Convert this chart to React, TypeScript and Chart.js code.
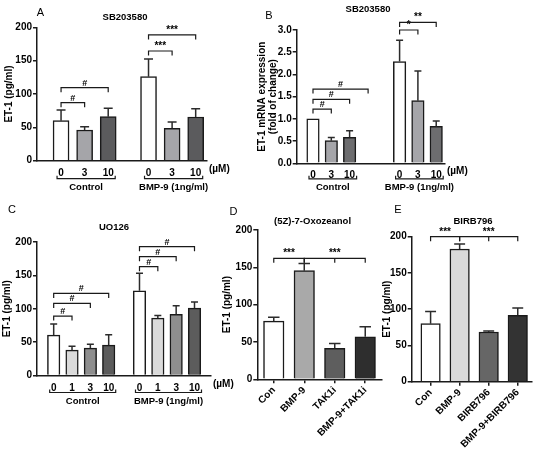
import React, { useEffect, useRef } from 'react';
import { Chart, registerables } from 'chart.js';

Chart.register(...registerables);

const FONT = '"Liberation Sans", Arial, Helvetica, sans-serif';
const INK = '#1a1a1a';

// ---------- Panel A : SB203580, ET-1 (pg/ml) ----------
const A_DOSES = ['0', '3', '10'];
const A_GROUPS = ['Control', 'BMP-9 (1ng/ml)'];
const A_CONTROL = [60, 46, 66];
const A_CONTROL_ERR = [16, 5, 12.5];
const A_BMP9 = [126, 48.5, 65.5];
const A_BMP9_ERR = [26.5, 9.5, 12.5];
const A_Y_TICKS = [0, 50, 100, 150, 200];
const A_SIG = [
  { from: 0, to: 1, at: 87, label: '#' },
  { from: 0, to: 2, at: 109.5, label: '#' },
  { from: 3, to: 4, at: 164.5, label: '***' },
  { from: 3, to: 5, at: 188.5, label: '***' },
];

// ---------- Panel B : SB203580, ET-1 mRNA (fold of change) ----------
const B_DOSES = ['0', '3', '10'];
const B_GROUPS = ['Control', 'BMP-9 (1ng/ml)'];
const B_CONTROL = [1.0, 0.51, 0.585];
const B_CONTROL_ERR = [0, 0.07, 0.145];
const B_BMP9 = [2.29, 1.41, 0.83];
const B_BMP9_ERR = [0.48, 0.67, 0.12];
const B_Y_TICKS = [0, 0.5, 1, 1.5, 2, 2.5, 3];
const B_SIG = [
  { from: 0, to: 1, at: 1.22, label: '#' },
  { from: 0, to: 2, at: 1.44, label: '#' },
  { from: 0, to: 2.37, at: 1.67, label: '#' },
  { from: 3, to: 4, at: 3.0, label: '*' },
  { from: 3, to: 5, at: 3.17, label: '**' },
];

// ---------- Panel C : UO126 ----------
const C_DOSES = ['0', '1', '3', '10'];
const C_GROUPS = ['Control', 'BMP-9 (1ng/ml)'];
const C_CONTROL = [60.5, 38, 41, 45.5];
const C_CONTROL_ERR = [16.5, 6, 6, 15.5];
const C_BMP9 = [127, 86, 91.5, 101];
const C_BMP9_ERR = [26, 4, 13, 9];
const C_Y_TICKS = [0, 50, 100, 150, 200];
const C_SIG = [
  { from: 0, to: 1, at: 89, label: '#' },
  { from: 0, to: 2, at: 108, label: '#' },
  { from: 0, to: 3, at: 123, label: '#' },
  { from: 4, to: 5, at: 163, label: '#' },
  { from: 4, to: 6, at: 178, label: '#' },
  { from: 4, to: 7, at: 193, label: '#' },
];

// ---------- Panel D : (5Z)-7-Oxozeanol ----------
const D_LABELS = ['Con', 'BMP-9', 'TAK1i', 'BMP-9+TAK1i'];
const D_VALUES = [78, 145.5, 41.5, 57];
const D_ERR = [5, 9.5, 6.5, 13.5];
const D_Y_TICKS = [0, 50, 100, 150, 200];
const D_SIG = [
  { from: 0, to: 1, at: 162, label: '***' },
  { from: 1, to: 3, at: 162, label: '***', mid: [2] },
];

// ---------- Panel E : BIRB796 ----------
const E_LABELS = ['Con', 'BMP-9', 'BIRB796', 'BMP-9+BIRB796'];
const E_VALUES = [80, 183, 68.5, 91.5];
const E_ERR = [17, 7, 1.5, 10];
const E_Y_TICKS = [0, 50, 100, 150, 200];
const E_SIG = [
  { from: 0, to: 1, at: 200, label: '***' },
  { from: 1, to: 3, at: 200, label: '***', mid: [2] },
];

type Sig = { from: number; to: number; at: number; label: string; mid?: number[] };
type Txt = { text: string; x: number; y: number; size: number; bold: boolean };
type Panel = {
  box: [number, number, number, number];
  area: { left: number; right: number; top: number; bottom: number };
  xRange: [number, number];
  xs: number[];
  labels: string[];
  values: number[];
  errors: number[];
  colors: string[];
  barThickness: number;
  yMax: number;
  yTicks: number[];
  yFmt: (v: number) => string;
  yTitle: string | string[];
  yTitlePad: number;
  sig: Sig[];
  groups?: { name: string; from: number; to: number }[];
  unit?: string;
  rotate: boolean;
  labelPad: number;
  groupLineDy: number;
  groupNameDy: number;
  texts: Txt[];
};

const groupedXs = (n: number, offset: number) => {
  const out: number[] = [];
  for (let i = 0; i < n; i++) out.push(i);
  for (let i = 0; i < n; i++) out.push(offset + i);
  return out;
};

const PANELS: Panel[] = [
  {
    box: [0, 0, 265, 205],
    area: { left: 37, right: 207, top: 27.3, bottom: 160.7 },
    xRange: [-1.02, 6.19],
    xs: groupedXs(3, 3.71),
    labels: [...A_DOSES, ...A_DOSES],
    values: [...A_CONTROL, ...A_BMP9],
    errors: [...A_CONTROL_ERR, ...A_BMP9_ERR],
    colors: ['#ffffff', '#a5a5a9', '#5b5b5d', '#ffffff', '#a5a5a9', '#5b5b5d'],
    barThickness: 16,
    yMax: 200,
    yTicks: A_Y_TICKS,
    yFmt: (v) => String(v),
    yTitle: 'ET-1 (pg/ml)',
    yTitlePad: 4,
    sig: A_SIG,
    groups: [
      { name: A_GROUPS[0], from: 0, to: 2 },
      { name: A_GROUPS[1], from: 3, to: 5 },
    ],
    unit: '(\u00b5M)',
    rotate: false,
    labelPad: 3,
    groupLineDy: 18,
    groupNameDy: 26.5,
    texts: [
      { text: 'A', x: 40.5, y: 13, size: 11, bold: false },
      { text: 'SB203580', x: 125, y: 17, size: 9.5, bold: true },
    ],
  },
  {
    box: [254, 0, 283, 205],
    area: { left: 42.7, right: 191, top: 30, bottom: 163.3 },
    xRange: [-0.89, 7.21],
    xs: groupedXs(3, 4.73),
    labels: [...B_DOSES, ...B_DOSES],
    values: [...B_CONTROL, ...B_BMP9],
    errors: [...B_CONTROL_ERR, ...B_BMP9_ERR],
    colors: ['#ffffff', '#a5a5a9', '#6d6d6f', '#ffffff', '#a5a5a9', '#6d6d6f'],
    barThickness: 12.5,
    yMax: 3,
    yTicks: B_Y_TICKS,
    yFmt: (v) => v.toFixed(1),
    yTitle: ['ET-1 mRNA expression', '(fold of change)'],
    yTitlePad: 3,
    sig: B_SIG,
    groups: [
      { name: B_GROUPS[0], from: 0, to: 2 },
      { name: B_GROUPS[1], from: 3, to: 5 },
    ],
    unit: '(\u00b5M)',
    rotate: false,
    labelPad: 1.5,
    groupLineDy: 15.5,
    groupNameDy: 24,
    texts: [
      { text: 'B', x: 15, y: 16, size: 11, bold: false },
      { text: 'SB203580', x: 114, y: 9, size: 9.5, bold: true },
    ],
  },
  {
    box: [0, 200, 245, 261],
    area: { left: 37, right: 211, top: 42, bottom: 175.5 },
    xRange: [-0.91, 8.58],
    xs: groupedXs(4, 4.68),
    labels: [...C_DOSES, ...C_DOSES],
    values: [...C_CONTROL, ...C_BMP9],
    errors: [...C_CONTROL_ERR, ...C_BMP9_ERR],
    colors: ['#ffffff', '#dadada', '#8e8e8e', '#5c5c5c', '#ffffff', '#dadada', '#8e8e8e', '#5c5c5c'],
    barThickness: 12.5,
    yMax: 200,
    yTicks: C_Y_TICKS,
    yFmt: (v) => String(v),
    yTitle: 'ET-1 (pg/ml)',
    yTitlePad: 1.5,
    sig: C_SIG,
    groups: [
      { name: C_GROUPS[0], from: 0, to: 3 },
      { name: C_GROUPS[1], from: 4, to: 7 },
    ],
    unit: '(\u00b5M)',
    rotate: false,
    labelPad: 3,
    groupLineDy: 17,
    groupNameDy: 25.5,
    texts: [
      { text: 'C', x: 12, y: 10, size: 11, bold: false },
      { text: 'UO126', x: 114, y: 27.5, size: 9.5, bold: true },
    ],
  },
  {
    box: [222, 200, 163, 261],
    area: { left: 35.3, right: 159.7, top: 30, bottom: 179.3 },
    xRange: [-0.54, 3.54],
    xs: [0, 1, 2, 3],
    labels: D_LABELS,
    values: D_VALUES,
    errors: D_ERR,
    colors: ['#ffffff', '#a9a9a9', '#5e5e5e', '#2e2e2e'],
    barThickness: 20.5,
    yMax: 200,
    yTicks: D_Y_TICKS,
    yFmt: (v) => String(v),
    yTitle: 'ET-1 (pg/ml)',
    yTitlePad: 0,
    sig: D_SIG,
    rotate: true,
    labelPad: 1,
    groupLineDy: 0,
    groupNameDy: 0,
    texts: [
      { text: 'D', x: 11.5, y: 11.5, size: 11, bold: false },
      { text: '(5Z)-7-Oxozeanol', x: 90.5, y: 21.5, size: 9.5, bold: true },
    ],
  },
  {
    box: [380, 200, 157, 261],
    area: { left: 31.7, right: 151.7, top: 36.7, bottom: 181.7 },
    xRange: [-0.65, 3.48],
    xs: [0, 1, 2, 3],
    labels: E_LABELS,
    values: E_VALUES,
    errors: E_ERR,
    colors: ['#ffffff', '#dadada', '#666666', '#333333'],
    barThickness: 19.5,
    yMax: 200,
    yTicks: E_Y_TICKS,
    yFmt: (v) => String(v),
    yTitle: 'ET-1 (pg/ml)',
    yTitlePad: 2,
    sig: E_SIG,
    rotate: true,
    labelPad: 1,
    groupLineDy: 0,
    groupNameDy: 0,
    texts: [
      { text: 'E', x: 18, y: 10, size: 11, bold: false },
      { text: 'BIRB796', x: 93, y: 21, size: 9.5, bold: true },
    ],
  },
];

function decorPlugin(p: Panel) {
  const posOf = (k: number) => {
    const i = Math.floor(k);
    const f = k - i;
    if (f === 0) return p.xs[i];
    return p.xs[i] + f * (p.xs[i + 1] - p.xs[i]);
  };
  return {
    id: 'decor',
    afterDatasetsDraw(chart: any) {
      const { ctx } = chart;
      const xs = chart.scales.x;
      const ys = chart.scales.y;
      const meta = chart.getDatasetMeta(0);
      ctx.save();
      ctx.strokeStyle = '#2b2b2b';
      ctx.lineWidth = 1.5;
      p.values.forEach((v, i) => {
        const e = p.errors[i];
        if (!e) return;
        const el = meta.data[i];
        const x = el.x;
        const y0 = ys.getPixelForValue(v);
        const y1 = ys.getPixelForValue(v + e);
        const half = Math.max(2.5, el.width * 0.28);
        ctx.beginPath();
        ctx.moveTo(x, y0);
        ctx.lineTo(x, y1);
        ctx.moveTo(x - half, y1);
        ctx.lineTo(x + half, y1);
        ctx.stroke();
      });
      ctx.strokeStyle = INK;
      ctx.lineWidth = 1.2;
      ctx.fillStyle = '#000';
      ctx.textAlign = 'center';
      ctx.textBaseline = 'alphabetic';
      p.sig.forEach((s) => {
        const x1 = xs.getPixelForValue(posOf(s.from));
        const x2 = xs.getPixelForValue(posOf(s.to));
        const y = ys.getPixelForValue(s.at);
        ctx.beginPath();
        ctx.moveTo(x1, y + 4.5);
        ctx.lineTo(x1, y);
        ctx.lineTo(x2, y);
        ctx.lineTo(x2, y + 4.5);
        (s.mid || []).forEach((m) => {
          const xm = xs.getPixelForValue(posOf(m));
          ctx.moveTo(xm, y);
          ctx.lineTo(xm, y + 4.5);
        });
        ctx.stroke();
        const star = s.label.startsWith('*');
        ctx.font = `bold ${star ? 10 : 9}px ${FONT}`;
        ctx.fillText(s.label, (x1 + x2) / 2, y - 2);
      });
      ctx.restore();
    },
    afterDraw(chart: any) {
      const { ctx, chartArea } = chart;
      const xs = chart.scales.x;
      const base = chartArea.bottom;
      ctx.save();
      ctx.strokeStyle = INK;
      ctx.lineWidth = 1.2;
      ctx.fillStyle = '#000';
      ctx.textAlign = 'center';
      ctx.textBaseline = 'middle';
      (p.groups || []).forEach((g) => {
        const x1 = xs.getPixelForValue(p.xs[g.from]) - 4;
        const x2 = xs.getPixelForValue(p.xs[g.to]) + 7;
        const y = base + p.groupLineDy;
        ctx.beginPath();
        ctx.moveTo(x1, y - 3);
        ctx.lineTo(x1, y);
        ctx.lineTo(x2, y);
        ctx.lineTo(x2, y - 3);
        ctx.stroke();
        ctx.font = `bold 9.5px ${FONT}`;
        ctx.fillText(g.name, (x1 + x2) / 2, base + p.groupNameDy);
      });
      if (p.unit) {
        ctx.textAlign = 'left';
        ctx.font = `bold 10px ${FONT}`;
        ctx.fillText(p.unit, chartArea.right + 2, base + p.labelPad + 6);
      }
      p.texts.forEach((t) => {
        ctx.textAlign = 'center';
        ctx.font = `${t.bold ? 'bold ' : ''}${t.size}px ${FONT}`;
        ctx.fillText(t.text, t.x, t.y);
      });
      ctx.restore();
    },
  };
}

function buildConfig(p: Panel): any {
  const tickFont = { family: FONT, size: 10, weight: 'bold' };
  const rot = p.rotate ? 45 : 0;
  return {
    type: 'bar',
    data: {
      datasets: [
        {
          data: p.values.map((v, i) => ({ x: p.xs[i], y: v })),
          backgroundColor: p.colors,
          borderColor: INK,
          borderWidth: 1.5,
          borderSkipped: 'start',
          barThickness: p.barThickness,
        },
      ],
    },
    options: {
      animation: false,
      responsive: false,
      devicePixelRatio: 1,
      events: [],
      layout: { padding: { left: 0, top: p.area.top, right: p.box[2] - p.area.right, bottom: 0 } },
      plugins: { legend: { display: false }, tooltip: { enabled: false }, title: { display: false } },
      scales: {
        x: {
          type: 'linear',
          min: p.xRange[0],
          max: p.xRange[1],
          offset: false,
          afterBuildTicks: (s: any) => {
            s.ticks = p.xs.map((v) => ({ value: v }));
          },
          afterFit: (s: any) => {
            s.height = p.box[3] - p.area.bottom;
          },
          grid: { display: p.rotate, drawOnChartArea: false, drawTicks: true, tickLength: 4, color: INK, lineWidth: 1.5, offset: false },
          border: { display: true, color: INK, width: 1.5 },
          ticks: {
            autoSkip: false,
            minRotation: rot,
            maxRotation: rot,
            padding: p.labelPad,
            color: '#000',
            font: tickFont,
            callback: (_v: any, i: number) => p.labels[i],
          },
        },
        y: {
          type: 'linear',
          min: 0,
          max: p.yMax,
          afterBuildTicks: (s: any) => {
            s.ticks = p.yTicks.map((v) => ({ value: v }));
          },
          afterFit: (s: any) => {
            s.width = p.area.left;
          },
          grid: { display: true, drawOnChartArea: false, drawTicks: true, tickLength: 4, color: INK, lineWidth: 1.5 },
          border: { display: true, color: INK, width: 1.5 },
          ticks: {
            padding: 1,
            color: '#000',
            font: tickFont,
            callback: (_v: any, i: number) => p.yFmt(p.yTicks[i]),
          },
          title: {
            display: true,
            text: p.yTitle,
            color: '#000',
            font: { family: FONT, size: 10, weight: 'bold', lineHeight: 1.05 },
            padding: { top: p.yTitlePad, bottom: 0 },
          },
        },
      },
    },
    plugins: [decorPlugin(p)],
  };
}

function PanelChart({ p }: { p: Panel }) {
  const ref = useRef<HTMLCanvasElement>(null);
  useEffect(() => {
    const chart = new Chart(ref.current as HTMLCanvasElement, buildConfig(p));
    return () => chart.destroy();
  }, [p]);
  const [left, top, width, height] = p.box;
  return (
    <canvas
      ref={ref}
      width={width}
      height={height}
      style={{ position: 'absolute', left, top, width, height }}
    />
  );
}

export default function App() {
  return (
    <div style={{ position: 'absolute', left: 0, top: 0, width: 537, height: 461, background: '#ffffff', overflow: 'hidden' }}>
      {PANELS.map((p, i) => (
        <PanelChart key={i} p={p} />
      ))}
    </div>
  );
}
